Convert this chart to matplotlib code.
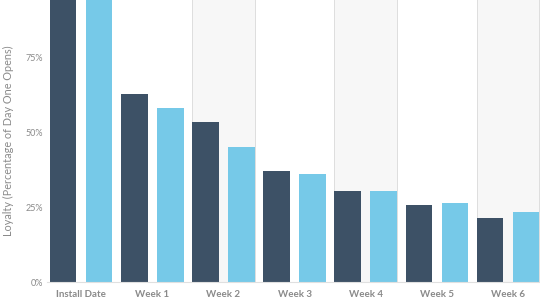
import matplotlib.pyplot as plt
import numpy as np
from matplotlib.patches import Rectangle

plt.rcParams['font.family'] = ['Lato', 'DejaVu Sans']

labels = ['Install Date', 'Week 1', 'Week 2', 'Week 3', 'Week 4', 'Week 5', 'Week 6']
series_a = [100, 62.9, 53.3, 37.2, 30.2, 25.7, 21.3]
series_b = [100, 58.2, 45.2, 36.2, 30.4, 26.4, 23.3]
shaded = ['Week 2', 'Week 4', 'Week 6']

dark = '#3d5166'
light = '#76c9e8'
txt = '#8a8a8a'

fig = plt.figure(figsize=(5.4, 3.0), dpi=100)
ax = fig.add_axes([0.087, 0.06, 0.913, 0.94])

x = np.arange(len(labels))
w = 0.372
off = 0.253

# light grey bands behind alternate weeks (taller than the axes so no top edge shows)
for i, lab in enumerate(labels):
    if lab in shaded:
        left = i - off - w / 2
        ax.add_patch(Rectangle((left, 0), 2 * off + w, 200, facecolor='#f7f7f7',
                               edgecolor='#dedede', linewidth=0.7, zorder=0))

ax.bar(x - off, series_a, width=w, color=dark, zorder=2)
ax.bar(x + off, series_b, width=w, color=light, zorder=2)

ax.set_xlim(-0.48, 6.45)
ax.set_ylim(0, 94.1)
ax.set_yticks([0, 25, 50, 75])
ax.set_yticklabels(['0%', '25%', '50%', '75%'])
ax.set_xticks(x)
ax.set_xticklabels(labels)

for s in ['top', 'right', 'left']:
    ax.spines[s].set_visible(False)
ax.spines['bottom'].set_color('#e0e0e0')
ax.spines['bottom'].set_linewidth(0.8)
ax.tick_params(length=0, colors=txt, labelsize=6.5)
ax.tick_params(axis='x', pad=6, labelsize=7)
ax.tick_params(axis='y', pad=3)
for t in ax.get_xticklabels():
    t.set_fontweight('bold')

fig.text(0.016, 0.53, 'Loyalty (Percentage of Day One Opens)', rotation=90,
         ha='center', va='center', color=txt, fontsize=7.8)

fig.savefig('out.png', dpi=100)
